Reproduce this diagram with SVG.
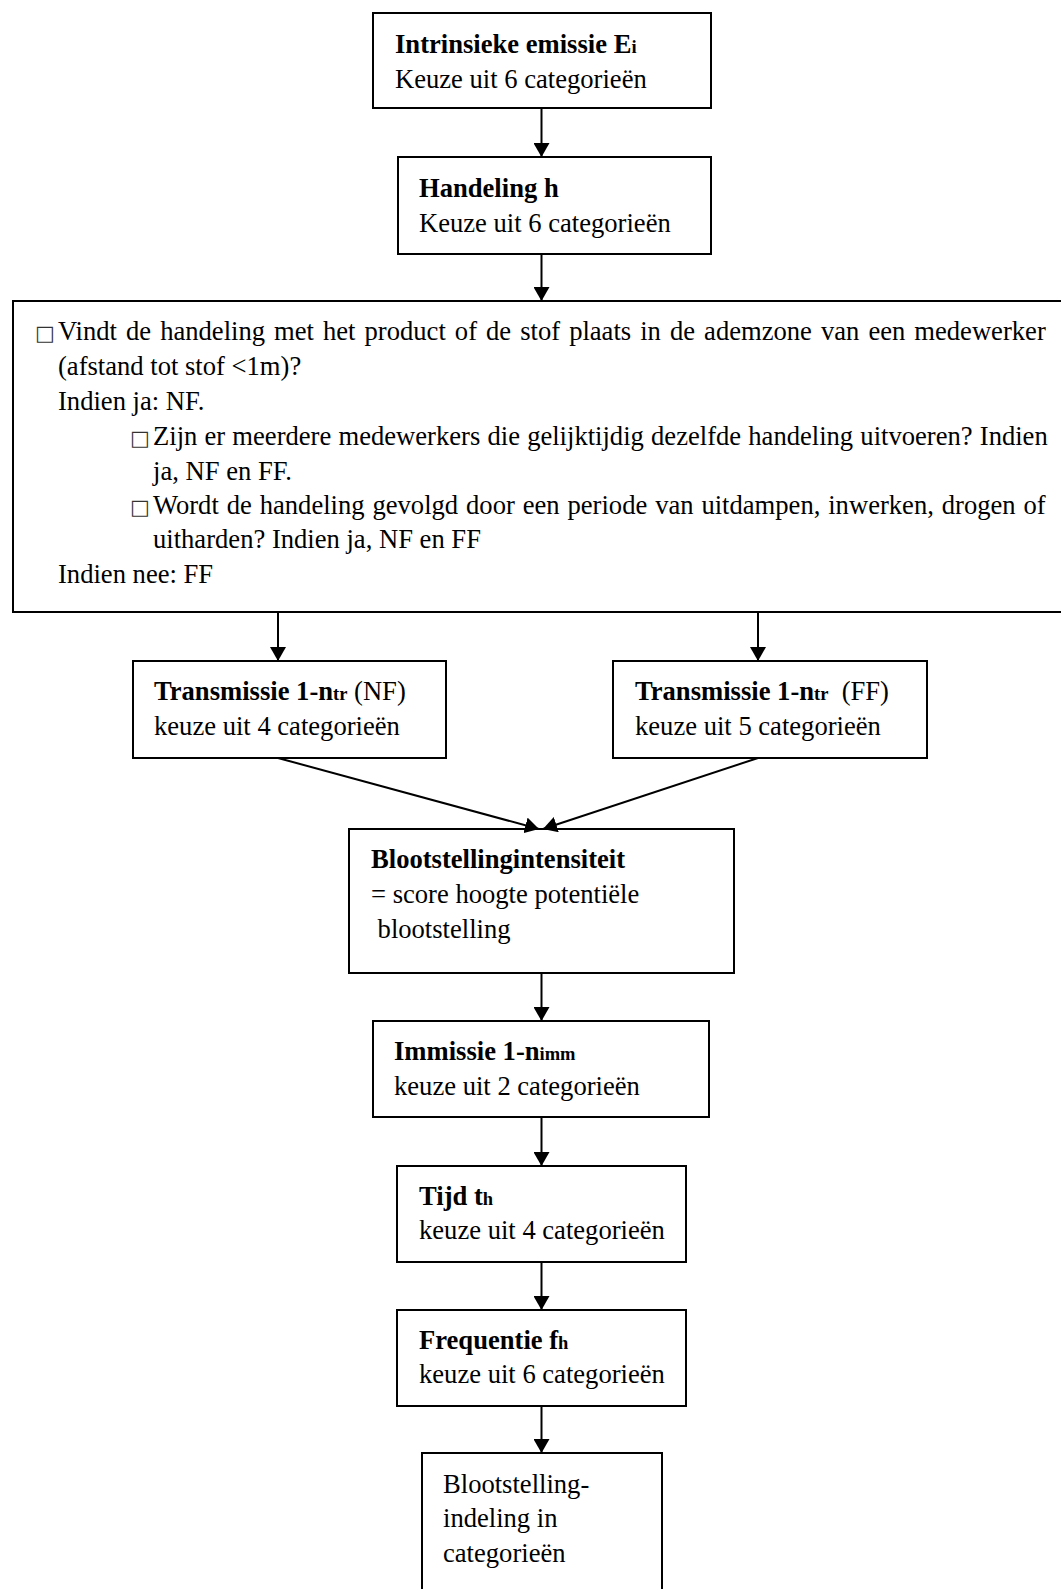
<svg xmlns="http://www.w3.org/2000/svg" width="1061" height="1589" viewBox="0 0 1061 1589">
<style>
  .box { fill: #fff; stroke: #000; stroke-width: 2; }
  .t { font-family: "Liberation Serif", "Times New Roman", serif; font-size: 26.6px; fill: #000; }
  .b { font-weight: bold; }
  .sub { font-size: 18.5px; font-weight: bold; }
  .bul { font-family: "DejaVu Sans", sans-serif; font-size: 21px; fill: #333; }
  .con { stroke: #000; stroke-width: 2; fill: none; marker-end: url(#ah); }
</style>
<defs>
  <marker id="ah" viewBox="0 0 14 16" refX="14" refY="8" markerWidth="14" markerHeight="16" markerUnits="userSpaceOnUse" orient="auto">
    <path d="M0,0 L14,8 L0,16 z" fill="#000"/>
  </marker>
</defs>
<rect width="1061" height="1589" fill="#fff"/>

<g id="n1">
  <rect class="box" x="373" y="13" width="338" height="95"/>
  <text class="t b" x="395" y="53">Intrinsieke emissie E<tspan class="sub">i</tspan></text>
  <text class="t" x="395" y="88">Keuze uit 6 categorieën</text>
</g>

<g id="n2">
  <rect class="box" x="398" y="157" width="313" height="97"/>
  <text class="t b" x="419" y="197">Handeling h</text>
  <text class="t" x="419" y="232">Keuze uit 6 categorieën</text>
</g>

<g id="n3">
  <rect class="box" x="13" y="301" width="1060" height="311"/>
  <text class="bul" x="35" y="340">□</text>
  <text class="t" x="58" y="340" word-spacing="2.4">Vindt de handeling met het product of de stof plaats in de ademzone van een medewerker</text>
  <text class="t" x="58" y="375">(afstand tot stof &lt;1m)?</text>
  <text class="t" x="58" y="410">Indien ja: NF.</text>
  <text class="bul" x="130" y="445">□</text>
  <text class="t" x="153" y="445" word-spacing="0.55">Zijn er meerdere medewerkers die gelijktijdig dezelfde handeling uitvoeren? Indien</text>
  <text class="t" x="153" y="480">ja, NF en FF.</text>
  <text class="bul" x="130" y="514">□</text>
  <text class="t" x="153" y="514" word-spacing="1.25">Wordt de handeling gevolgd door een periode van uitdampen, inwerken, drogen of</text>
  <text class="t" x="153" y="548">uitharden? Indien ja, NF en FF</text>
  <text class="t" x="58" y="583">Indien nee: FF</text>
</g>

<g id="n4">
  <rect class="box" x="133" y="661" width="313" height="97"/>
  <text class="t" x="154" y="700"><tspan class="b">Transmissie 1-n</tspan><tspan class="sub">tr</tspan> (NF)</text>
  <text class="t" x="154" y="735">keuze uit 4 categorieën</text>
</g>

<g id="n5">
  <rect class="box" x="613" y="661" width="314" height="97"/>
  <text class="t" x="635" y="700"><tspan class="b">Transmissie 1-n</tspan><tspan class="sub">tr</tspan><tspan dx="6.6"> (FF)</tspan></text>
  <text class="t" x="635" y="735">keuze uit 5 categorieën</text>
</g>

<g id="n6">
  <rect class="box" x="349" y="829" width="385" height="144"/>
  <text class="t b" x="371" y="868">Blootstellingintensiteit</text>
  <text class="t" x="371" y="903">= score hoogte potentiële</text>
  <text class="t" x="377.6" y="938">blootstelling</text>
</g>

<g id="n7">
  <rect class="box" x="373" y="1021" width="336" height="96"/>
  <text class="t b" x="394" y="1060">Immissie 1-n<tspan class="sub">imm</tspan></text>
  <text class="t" x="394" y="1095">keuze uit 2 categorieën</text>
</g>

<g id="n8">
  <rect class="box" x="397" y="1166" width="289" height="96"/>
  <text class="t b" x="419" y="1205">Tijd t<tspan class="sub">h</tspan></text>
  <text class="t" x="419" y="1239">keuze uit 4 categorieën</text>
</g>

<g id="n9">
  <rect class="box" x="397" y="1310" width="289" height="96"/>
  <text class="t b" x="419" y="1349">Frequentie f<tspan class="sub">h</tspan></text>
  <text class="t" x="419" y="1383">keuze uit 6 categorieën</text>
</g>

<g id="n10">
  <rect class="box" x="422" y="1453" width="240" height="160"/>
  <text class="t" x="443" y="1493">Blootstelling-</text>
  <text class="t" x="443" y="1527">indeling in</text>
  <text class="t" x="443" y="1562">categorieën</text>
</g>

<g id="connectors">
  <line class="con" x1="541.5" y1="108" x2="541.5" y2="157"/>
  <line class="con" x1="541.5" y1="254" x2="541.5" y2="301"/>
  <line class="con" x1="278" y1="612" x2="278" y2="661"/>
  <line class="con" x1="758" y1="612" x2="758" y2="661"/>
  <line class="con" x1="278" y1="758" x2="539" y2="829"/>
  <line class="con" x1="758" y1="758" x2="543" y2="829"/>
  <line class="con" x1="541.5" y1="973" x2="541.5" y2="1021"/>
  <line class="con" x1="541.5" y1="1117" x2="541.5" y2="1166"/>
  <line class="con" x1="541.5" y1="1262" x2="541.5" y2="1310"/>
  <line class="con" x1="541.5" y1="1406" x2="541.5" y2="1453"/>
</g>
</svg>
